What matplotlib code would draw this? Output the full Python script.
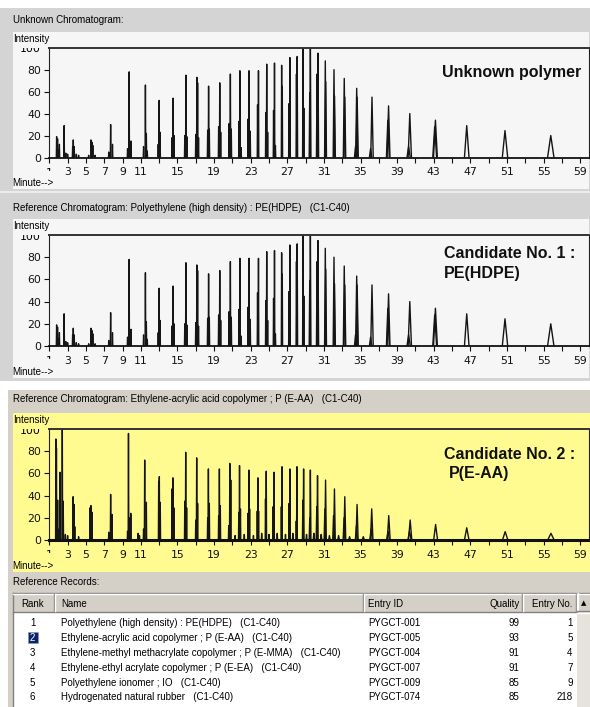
import matplotlib
matplotlib.use('Agg')
import matplotlib.pyplot as plt
from matplotlib.patches import Rectangle
from matplotlib.lines import Line2D
from matplotlib.collections import LineCollection

W, H = 590, 707
UI = 'Liberation Sans'

# peaks: retention time (min) / intensity (%)
# unknown sample and PE(HDPE) reference look the same
pe_rt = [1.80, 1.90, 2.00, 2.10, 2.62, 2.80, 3.00,
         3.55, 3.62, 3.72, 3.95, 4.20,
         5.30, 5.55, 5.65, 5.75, 6.00,
         7.50, 7.70, 7.90,
         9.55, 9.72, 9.82, 9.92,
         11.30, 11.50, 11.60, 11.70,
         12.90, 13.00, 13.10,
         14.40, 14.52, 14.62,
         15.80, 15.92, 16.02,
         17.00, 17.12, 17.20, 17.30,
         18.30, 18.40, 18.48,
         19.50, 19.62, 19.72,
         20.65, 20.78, 20.88,
         21.72, 21.82, 21.95,
         22.72, 22.82, 22.95,
         23.75, 23.85,
         24.65, 24.75, 24.85,
         25.50, 25.60, 25.70,
         26.38, 26.45,
         27.18, 27.28,
         28.00, 28.08,
         28.72, 28.80,
         29.45, 29.52,
         30.25, 30.35,
         31.15, 31.20,
         32.10, 32.16,
         33.22, 33.28,
         34.45, 34.58, 34.63,
         36.10, 36.25,
         37.98, 38.06,
         40.25, 40.38,
         43.10, 43.18,
         46.60, 50.78, 55.78]
pe_int = [19, 17, 7, 12, 29, 4, 3,
          10, 16, 10, 3, 2,
          2, 16, 14, 11, 2,
          5, 30, 12,
          8, 78, 6, 15,
          10, 66, 22, 6,
          12, 52, 23,
          18, 54, 20,
          20, 75, 19,
          21, 73, 68, 18,
          25, 65, 26,
          28, 68, 23,
          31, 76, 26,
          33, 79, 9,
          35, 79, 24,
          48, 79,
          41, 85, 23,
          43, 86, 11,
          84, 65,
          49, 91,
          76, 92,
          103, 45,
          59, 103,
          76, 95,
          88, 69,
          80, 56,
          72, 55,
          10, 63, 55,
          8, 55,
          34, 47,
          10, 40,
          28, 34,
          29, 24.5, 20]

# ethylene-acrylic acid copolymer reference
eaa_rt = [1.72, 1.78, 1.85, 1.95, 2.10, 2.17, 2.42, 2.52, 2.75, 3.00,
          3.60, 3.70, 3.78, 4.20,
          5.45, 5.55, 5.65,
          7.50, 7.70, 7.85,
          9.55, 9.65, 9.75, 9.90,
          10.70, 10.85,
          11.30, 11.42, 11.60,
          12.95, 13.02, 13.12,
          14.40, 14.50, 14.60,
          15.80, 15.90, 16.00,
          17.00, 17.10, 17.20,
          18.30, 18.38, 18.48,
          19.50, 19.58, 19.68,
          20.60, 20.72, 20.82,
          21.30, 21.70, 21.78, 21.88,
          22.30, 22.70, 22.80, 22.88,
          23.30, 23.72, 23.80, 23.86,
          24.20, 24.62, 24.70,
          25.00, 25.45, 25.55,
          25.90, 26.35, 26.42,
          26.80, 27.20, 27.28,
          27.60, 27.98, 28.05,
          28.70, 28.78,
          29.10, 29.45, 29.52,
          29.90, 30.22, 30.30,
          30.70, 31.10, 31.18,
          31.60, 32.05, 32.15,
          32.60, 33.20, 33.28,
          33.80, 34.55, 34.62,
          35.30, 36.15, 36.22,
          38.00, 38.08,
          40.35, 40.42,
          43.20, 46.60, 50.80, 55.80]
eaa_int = [91, 83, 36, 10, 36, 61, 103, 35, 5, 4,
           39, 32, 12, 3,
           29, 31, 25,
           7, 41, 23,
           8, 96, 20, 24,
           6, 4,
           10, 72, 34,
           53, 57, 34,
           46, 56, 29,
           35, 79, 29,
           18, 74, 33,
           20, 64, 33,
           22, 64, 31,
           13, 69, 54,
           4, 25, 67, 28,
           5, 24, 63, 28,
           4, 26, 56, 26,
           6, 37, 62,
           5, 30, 61,
           6, 30, 66,
           5, 33, 64,
           6, 17, 66,
           36, 64,
           5, 20, 63,
           6, 30, 58,
           5, 28, 54,
           4, 22, 46,
           4, 20, 39,
           3, 13, 32,
           3, 10, 28,
           8, 22,
           8, 18,
           14, 11, 7.5, 6]

x_ticks = list(range(1, 60, 2))
x_labeled = [3, 5, 7, 9, 11, 15, 19, 23, 27, 31, 35, 39, 43, 47, 51, 55, 59]
x_tick_labels = [str(t) if t in x_labeled else '' for t in x_ticks]
y_ticks = [0, 20, 40, 60, 80]

panel_titles = ['Unknown Chromatogram:',
                'Reference Chromatogram: Polyethylene (high density) : PE(HDPE)   (C1-C40)',
                'Reference Chromatogram: Ethylene-acrylic acid copolymer ; P (E-AA)   (C1-C40)']

col_heads = ['Rank', 'Name', 'Entry ID', 'Quality', 'Entry No.']
ranks = ['1', '2', '3', '4', '5', '6']
names = ['Polyethylene (high density) : PE(HDPE)   (C1-C40)',
         'Ethylene-acrylic acid copolymer ; P (E-AA)   (C1-C40)',
         'Ethylene-methyl methacrylate copolymer ; P (E-MMA)   (C1-C40)',
         'Ethylene-ethyl acrylate copolymer ; P (E-EA)   (C1-C40)',
         'Polyethylene ionomer ; IO   (C1-C40)',
         'Hydrogenated natural rubber   (C1-C40)']
entry_ids = ['PYGCT-001', 'PYGCT-005', 'PYGCT-004', 'PYGCT-007', 'PYGCT-009', 'PYGCT-074']
quality = [99, 93, 91, 91, 85, 85]
entry_no = [1, 5, 4, 7, 9, 218]

fig = plt.figure(figsize=(W / 100, H / 100), dpi=100)
fig.patch.set_facecolor('white')


def fx(x):
    return x / W


def fy(y):
    return 1 - y / H


def frect(x0, y0, x1, y1):
    return Rectangle((fx(x0), fy(y1)), (x1 - x0) / W, (y1 - y0) / H, transform=fig.transFigure)


def box(x0, y0, x1, y1, color, z=-2, **kw):
    r = frect(x0, y0, x1, y1)
    r.set_facecolor(color)
    r.set_edgecolor(kw.pop('ec', 'none'))
    r.set_zorder(z)
    r.set(**kw)
    fig.add_artist(r)


def line(xs, ys, color, lw=1.0):
    fig.add_artist(Line2D([fx(v) for v in xs], [fy(v) for v in ys],
                          transform=fig.transFigure, color=color, lw=lw, zorder=2))


def txt(x, y, s, size=7, ha='left', clip=None, family=UI, **kw):
    t = fig.text(fx(x), fy(y), s, fontsize=size, ha=ha, va='baseline', family=family, **kw)
    if clip:
        t.set_clip_path(frect(*clip))
        t.set_clip_on(True)
    return t


# window backgrounds
box(0, 7.5, 590, 190.5, '#d4d4d4')
box(0, 190.5, 590, 193, '#ececec')
box(0, 193, 590, 381, '#d4d4d4')
box(12.5, 31.7, 589, 189.3, '#f6f6f6', z=-1)
box(12.5, 219.3, 589, 378.3, '#f6f6f6', z=-1)
box(8, 390, 590, 707, '#d4d0c8')
box(12.5, 412.7, 590, 572.2, '#fffb91', z=-1)


def chrom(y0, y100, rt, inten, base_lw, title, title_y, big, big_y):
    ax = fig.add_axes([fx(49.3), fy(y0), 540.1 / W, (y0 - y100) / H])
    ax.patch.set_visible(False)
    segs = []
    for t, h in zip(rt, inten):
        # late-eluting peaks broaden
        w = max(0.035, 0.011 * (t - 24))
        segs.append([(t - w, 0), (t, h), (t + w, 0)])
    ax.add_collection(LineCollection(segs, colors='#151515', linewidths=1.0))
    ax.set_xlim(1, 60)
    ax.set_ylim(0, 100)
    ax.set_xticks(x_ticks, x_tick_labels)
    ax.set_yticks(y_ticks)
    ax.tick_params(axis='x', length=3.5, width=0.8, pad=3.5, labelsize=7.8, colors='#111')
    ax.tick_params(axis='y', length=3.6, width=0.8, pad=2.2, labelsize=7.8, colors='#111')
    for s in ['left', 'right']:
        ax.spines[s].set_linewidth(0.8)
        ax.spines[s].set_color('#222')
    ax.spines['top'].set_linewidth(1.4)
    ax.spines['top'].set_color('#333')
    ax.spines['bottom'].set_linewidth(base_lw)
    ax.spines['bottom'].set_color('#111')

    # half-hidden axis labels
    txt(41, y100 + 4.8, '100', size=7.8, ha='right', family='DejaVu Sans',
        clip=(0, y100, 49, y0))
    txt(49.3, y0 + 18, '1', size=7.8, ha='center', family='DejaVu Sans',
        clip=(40, y0, 60, y0 + 13))

    txt(12.7, title_y, title)
    txt(12.7, y100 - 5.7, 'Intensity')
    txt(12.7, y0 + 29, 'Minute-->')
    for (s, x), yy in zip(big, big_y):
        txt(x, yy, s, size=11.5, weight='bold', color='#111')
    return ax


chrom(157.5, 47.7, pe_rt, pe_int, 1.3, panel_titles[0], 23.3,
      [('Unknown polymer', 441.7)], [77.3])
chrom(346, 235, pe_rt, pe_int, 1.3, panel_titles[1], 211.5,
      [('Candidate No. 1 :', 444.3), ('PE(HDPE)', 444.3)], [258.3, 278.3])
chrom(540, 429, eaa_rt, eaa_int, 2.2, panel_titles[2], 402.5,
      [('Candidate No. 2 :', 444.3), ('P(E-AA)', 449.3)], [459, 478.3])

# reference records table
txt(12.7, 585, 'Reference Records:')
box(12.5, 592.5, 577, 707, 'white', z=-1)
line([12.5, 590], [592.5, 592.5], '#808080')
line([12.5, 12.5], [592.5, 707], '#808080')
box(13, 593, 577, 611.5, '#d4d0c8', z=-0.5)
line([13, 577], [593.5, 593.5], 'white')
line([13, 577], [611.5, 611.5], '#808080')
for xs in [54, 363, 522, 576]:
    line([xs, xs], [594, 611], '#808080')
    line([xs + 1, xs + 1], [594, 611], 'white')
head_pos = [(21.7, 'left'), (61, 'left'), (368, 'left'), (519.5, 'right'), (572.5, 'right')]
for (x, ha), s in zip(head_pos, col_heads):
    txt(x, 607, s, ha=ha)

# scrollbar
box(577, 593, 590, 707, '#e6e3dc', z=-0.5)
box(577, 593, 590, 611, '#d4d0c8', z=-0.4)
line([577.5, 577.5], [593, 611], 'white')
line([577, 590], [593.5, 593.5], 'white')
line([577, 590], [611, 611], '#808080')
line([577, 590], [612.5, 612.5], 'white')
txt(583.5, 605, '\u25b2', size=5, ha='center', family='DejaVu Sans')

# selected row marker
box(28.3, 631.5, 38.3, 643, '#0a246a', z=-0.3, ec='#9a9a9a', ls=':', lw=0.6)

row_clip = (13, 612, 577, 703.5)
for i in range(len(ranks)):
    yb = 626.5 + i * 14.8
    txt(32.7, yb, ranks[i], ha='center', clip=row_clip,
        color='white' if i == 1 else 'black')
    txt(61, yb, names[i], clip=row_clip)
    txt(368, yb, entry_ids[i], clip=row_clip)
    txt(519.5, yb, str(quality[i]), ha='right', clip=row_clip)
    txt(572.5, yb, str(entry_no[i]), ha='right', clip=row_clip)

fig.savefig('out.png', dpi=100)
